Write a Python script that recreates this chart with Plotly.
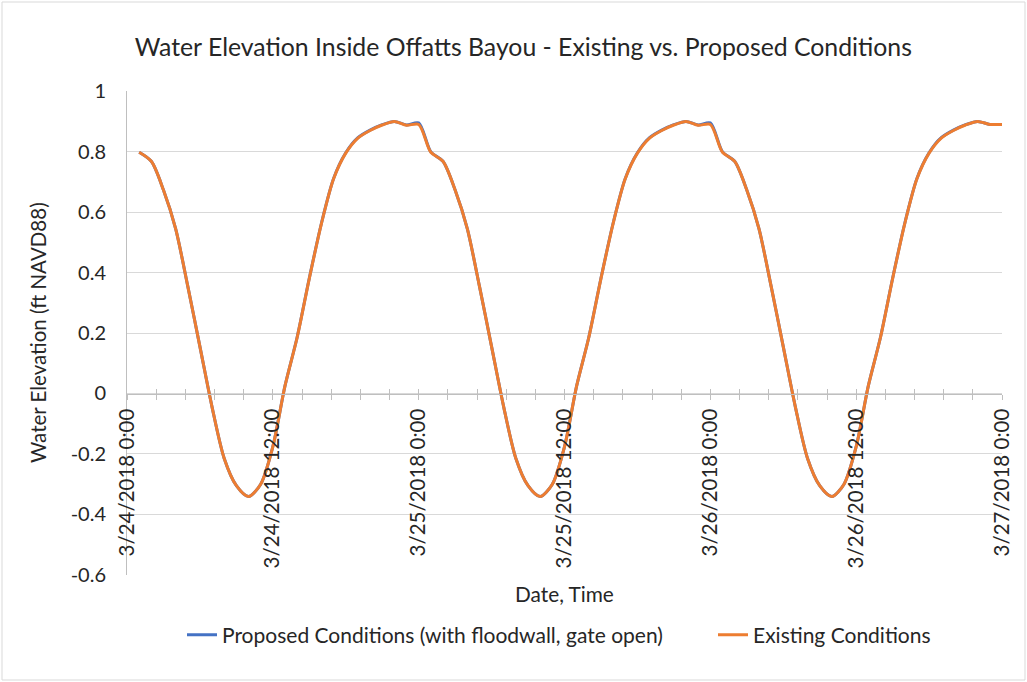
import pandas as pd
import plotly.graph_objects as go

# ---- data (hourly) ----
times = pd.date_range("2018-03-24 01:00", periods=72, freq="h")

existing = [
    0.798, 0.768, 0.673, 0.545, 0.355, 0.155, -0.045, -0.215, -0.305, -0.341, -0.300, -0.176,
    0.025, 0.185, 0.380, 0.562, 0.710, 0.795, 0.845, 0.870, 0.888, 0.900, 0.887, 0.890,
    0.798, 0.768, 0.673, 0.545, 0.355, 0.155, -0.045, -0.215, -0.305, -0.341, -0.300, -0.176,
    0.025, 0.185, 0.380, 0.562, 0.710, 0.795, 0.845, 0.870, 0.888, 0.900, 0.887, 0.890,
    0.798, 0.768, 0.673, 0.545, 0.355, 0.155, -0.045, -0.215, -0.305, -0.341, -0.300, -0.176,
    0.025, 0.185, 0.380, 0.562, 0.710, 0.795, 0.845, 0.870, 0.888, 0.900, 0.890, 0.890,
]
proposed = [
    0.798, 0.768, 0.673, 0.545, 0.355, 0.155, -0.045, -0.215, -0.305, -0.341, -0.300, -0.176,
    0.025, 0.186, 0.381, 0.563, 0.711, 0.796, 0.846, 0.871, 0.889, 0.900, 0.888, 0.895,
    0.799, 0.768, 0.673, 0.545, 0.355, 0.155, -0.045, -0.215, -0.305, -0.341, -0.300, -0.176,
    0.025, 0.186, 0.381, 0.563, 0.711, 0.796, 0.846, 0.871, 0.889, 0.900, 0.888, 0.895,
    0.799, 0.768, 0.673, 0.545, 0.355, 0.155, -0.045, -0.215, -0.305, -0.341, -0.300, -0.176,
    0.025, 0.186, 0.381, 0.563, 0.711, 0.796, 0.846, 0.871, 0.889, 0.900, 0.890, 0.890,
]
y_tick_vals = [-0.6, -0.4, -0.2, 0, 0.2, 0.4, 0.6, 0.8, 1.0]
y_tick_text = ["-0.6", "-0.4", "-0.2", "0", "0.2", "0.4", "0.6", "0.8", "1"]
series_names = ["Proposed Conditions (with floodwall, gate open)", "Existing Conditions"]
title_text = "Water Elevation Inside Offatts Bayou - Existing vs. Proposed Conditions"
x_title = "Date, Time"
y_title = "Water Elevation (ft NAVD88)"

FONT = "Lato, 'Open Sans', sans-serif"
TXT = "#262626"
AXIS = "#BFBFBF"
GRID = "#D9D9D9"

L, R, T, B = 127, 25, 91, 107
W, H = 1027, 682
pw, ph = W - L - R, H - T - B
ymin, ymax = -0.6, 1.0
zero_pos = (0 - ymin) / (ymax - ymin)

fig = go.Figure()
fig.add_trace(go.Scatter(x=times, y=proposed, name=series_names[0], mode="lines", legend="legend",
                         line=dict(color="#4472C4", width=3, shape="spline", smoothing=0.8)))
fig.add_trace(go.Scatter(x=times, y=existing, name=series_names[1], mode="lines", legend="legend2",
                         line=dict(color="#ED7D31", width=3, shape="spline", smoothing=0.8)))
# invisible helper trace to carry the overlay axis (inside tick marks)
fig.add_trace(go.Scatter(x=times, y=existing, xaxis="x2", mode="lines", opacity=0,
                         showlegend=False, hoverinfo="skip", line=dict(width=0)))

tick_common = dict(
    type="date",
    range=["2018-03-24 00:00", "2018-03-27 00:00"],
    dtick=12 * 3600 * 1000,
    tick0="2018-03-24",
    automargin=False,
)

legend_y = -(635 - (T + ph)) / ph
legend_common = dict(orientation="h", xanchor="left", y=legend_y, yanchor="middle",
                     font=dict(size=21, family=FONT, color=TXT), bgcolor="rgba(0,0,0,0)")

fig.update_layout(
    width=W, height=H,
    margin=dict(l=L, r=R, t=T, b=B, autoexpand=False),
    paper_bgcolor="white", plot_bgcolor="white",
    font=dict(family=FONT, color=TXT),
    title=dict(text=title_text, x=0.5096, xanchor="center", y=1 - 47 / H, yanchor="middle",
               font=dict(size=24.8, family=FONT, color=TXT)),
    showlegend=True,
    legend=dict(**legend_common, x=(182 - L) / pw),
    legend2=dict(**legend_common, x=(713 - L) / pw),
    xaxis=dict(
        **tick_common,
        anchor="free", position=zero_pos,
        tickformat="%-m/%-d/%Y %-H:%M",
        tickangle=-90,
        tickfont=dict(size=20.5, family=FONT, color=TXT),
        showgrid=False, zeroline=False,
        showline=True, linecolor=AXIS, linewidth=1,
        ticks="outside", ticklen=5, tickcolor=AXIS, tickwidth=1,
        minor=dict(dtick=2.4 * 3600 * 1000, tick0="2018-03-24", ticks="outside", ticklen=5,
                   tickcolor=AXIS, tickwidth=1, showgrid=False),
        ticklabelstandoff=1,
    ),
    xaxis2=dict(
        **tick_common,
        overlaying="x", matches="x", anchor="free", position=zero_pos,
        showticklabels=False, showgrid=False, zeroline=False, showline=False,
        ticks="inside", ticklen=5, tickcolor=AXIS, tickwidth=1,
        minor=dict(dtick=2.4 * 3600 * 1000, tick0="2018-03-24", ticks="inside", ticklen=5,
                   tickcolor=AXIS, tickwidth=1, showgrid=False),
    ),
    yaxis=dict(
        range=[ymin - 0.0005, ymax + 0.0005],
        tickmode="array", tickvals=y_tick_vals, ticktext=y_tick_text,
        tickfont=dict(size=20, family=FONT, color=TXT),
        showgrid=True, gridcolor=GRID, gridwidth=1,
        zeroline=False,
        showline=True, linecolor=AXIS, linewidth=1,
        ticks="", ticklabelstandoff=16,
        automargin=False,
    ),
    annotations=[
        dict(text=x_title, xref="paper", yref="paper", x=0.5, y=-(593 - (T + ph)) / ph,
             xanchor="center", yanchor="middle", showarrow=False,
             font=dict(size=20.8, family=FONT, color=TXT)),
        dict(text=y_title, xref="paper", yref="paper", x=(38 - L) / pw, y=0.5,
             xanchor="center", yanchor="middle", textangle=-90, showarrow=False,
             font=dict(size=20.5, family=FONT, color=TXT)),
    ],
    shapes=[
        dict(type="rect", xref="paper", yref="paper",
             x0=(2 - L) / pw, x1=(W - 2 - L) / pw,
             y0=-(H - 2 - T - ph) / ph, y1=(T + ph - 2) / ph,
             line=dict(color=GRID, width=1), fillcolor="rgba(0,0,0,0)", layer="below"),
    ],
)

fig.write_html("out.html", config={"displayModeBar": False},
               post_script="document.body.style.margin='0';")
